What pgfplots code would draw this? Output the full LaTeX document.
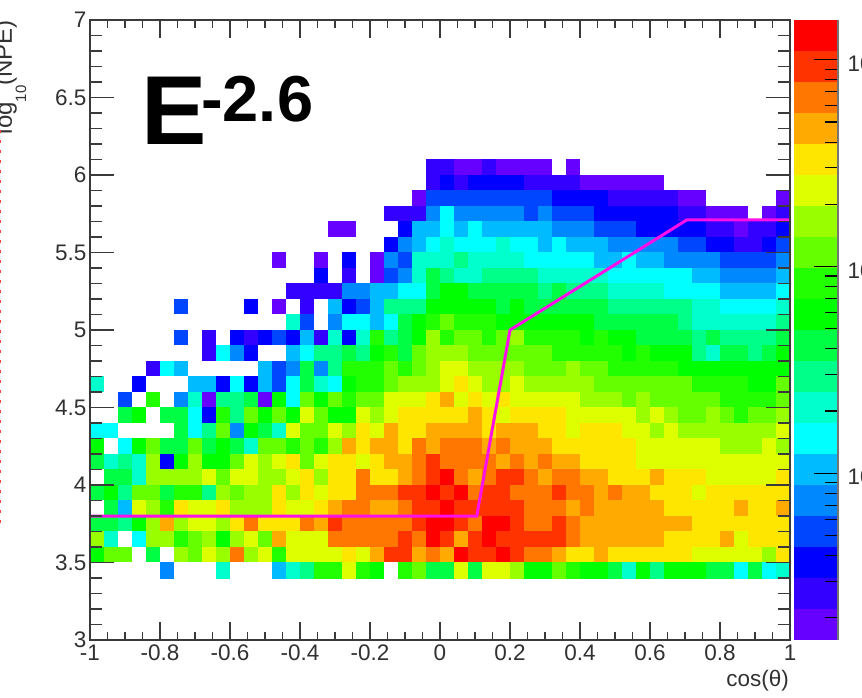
\documentclass[border=0pt]{standalone}
\usepackage{fontspec}
\setmainfont{Liberation Sans}
\usepackage{pgfplots}
\pgfplotsset{compat=1.18}
\definecolor{fr}{HTML}{3A3A3A}
\definecolor{ma}{HTML}{FF10E8}
\definecolor{c0}{RGB}{102,0,255}\definecolor{c1}{RGB}{51,0,255}\definecolor{c2}{RGB}{0,0,255}\definecolor{c3}{RGB}{0,70,255}
\definecolor{c4}{RGB}{0,136,255}\definecolor{c5}{RGB}{0,187,255}\definecolor{c6}{RGB}{0,255,255}\definecolor{c7}{RGB}{0,255,204}
\definecolor{c8}{RGB}{0,255,136}\definecolor{c9}{RGB}{0,255,68}\definecolor{c10}{RGB}{0,255,0}\definecolor{c11}{RGB}{34,255,0}
\definecolor{c12}{RGB}{102,255,0}\definecolor{c13}{RGB}{153,255,0}\definecolor{c14}{RGB}{221,255,0}\definecolor{c15}{RGB}{255,230,0}
\definecolor{c16}{RGB}{255,170,0}\definecolor{c17}{RGB}{255,119,0}\definecolor{c18}{RGB}{255,51,0}\definecolor{c19}{RGB}{255,0,0}
\pgfplotsset{colormap={rootheat}{rgb255=(255,255,255) rgb255=(102,0,255) rgb255=(51,0,255) rgb255=(0,0,255) rgb255=(0,70,255)
 rgb255=(0,136,255) rgb255=(0,187,255) rgb255=(0,255,255) rgb255=(0,255,204) rgb255=(0,255,136) rgb255=(0,255,68)
 rgb255=(0,255,0) rgb255=(34,255,0) rgb255=(102,255,0) rgb255=(153,255,0) rgb255=(221,255,0) rgb255=(255,230,0)
 rgb255=(255,170,0) rgb255=(255,119,0) rgb255=(255,51,0) rgb255=(255,0,0)}}
\newcommand{\seg}[3]{\addplot[fill=#3,draw=none] coordinates {(0,#1)(1,#1)(1,#2)(0,#2)} --cycle;}
\newcommand{\tfont}{\fontsize{22.5}{24}\selectfont\color{fr!85!black}}
\begin{document}
\begin{tikzpicture}[x=1pt,y=1pt]
\path[use as bounding box] (0,0) rectangle (862,697);
\begin{axis}[at={(90pt,57pt)},anchor=south west,scale only axis,width=700pt,height=620pt,
 xmin=-1,xmax=1,ymin=3,ymax=7,axis on top,
 axis line style={color=fr,line width=1.3pt},
 tick style={color=fr,line width=1.2pt},
 xtick={-1,-0.8,-0.6,-0.4,-0.2,0,0.2,0.4,0.6,0.8,1},
 xticklabels={-1,-0.8,-0.6,-0.4,-0.2,0,0.2,0.4,0.6,0.8,1},
 minor x tick num=3,ytick=\empty,
 tick align=inside,major tick length=18pt,minor tick length=8pt,
 xticklabel style={font=\tfont,yshift=-1pt},
 colormap name=rootheat,point meta min=-1,point meta max=19]
\addplot[matrix plot*,mesh/cols=50,point meta=explicit]
 table[row sep=crcr,x expr={-0.98+0.04*mod(\coordindex,50)},y expr={6.05-0.1*floor((\coordindex+0.5)/50)},meta=v] {
v\\
-1\\-1\\-1\\-1\\-1\\-1\\-1\\-1\\-1\\-1\\ -1\\-1\\-1\\-1\\-1\\-1\\-1\\-1\\-1\\-1\\ -1\\-1\\-1\\-1\\1\\1\\0\\0\\1\\0\\ 0\\0\\0\\-1\\0\\-1\\-1\\-1\\-1\\-1\\ -1\\-1\\-1\\-1\\-1\\-1\\-1\\-1\\-1\\-1\\
-1\\-1\\-1\\-1\\-1\\-1\\-1\\-1\\-1\\-1\\ -1\\-1\\-1\\-1\\-1\\-1\\-1\\-1\\-1\\-1\\ -1\\-1\\-1\\-1\\1\\2\\1\\2\\2\\2\\ 2\\1\\1\\1\\1\\0\\0\\0\\0\\0\\ 0\\-1\\-1\\-1\\-1\\-1\\-1\\-1\\-1\\-1\\
-1\\-1\\-1\\-1\\-1\\-1\\-1\\-1\\-1\\-1\\ -1\\-1\\-1\\-1\\-1\\-1\\-1\\-1\\-1\\-1\\ -1\\-1\\-1\\0\\3\\3\\3\\3\\3\\3\\ 3\\3\\3\\2\\2\\2\\2\\1\\1\\1\\ 1\\1\\0\\0\\-1\\-1\\-1\\-1\\-1\\0\\
-1\\-1\\-1\\-1\\-1\\-1\\-1\\-1\\-1\\-1\\ -1\\-1\\-1\\-1\\-1\\-1\\-1\\-1\\-1\\-1\\ -1\\1\\1\\1\\4\\6\\4\\4\\4\\4\\ 4\\3\\4\\3\\3\\3\\2\\2\\2\\2\\ 2\\2\\1\\1\\0\\0\\0\\-1\\0\\1\\
-1\\-1\\-1\\-1\\-1\\-1\\-1\\-1\\-1\\-1\\ -1\\-1\\-1\\-1\\-1\\-1\\-1\\0\\0\\-1\\ -1\\-1\\2\\5\\5\\6\\5\\6\\5\\5\\ 5\\5\\5\\4\\4\\4\\3\\3\\3\\2\\ 2\\2\\2\\2\\1\\1\\0\\1\\1\\2\\
-1\\-1\\-1\\-1\\-1\\-1\\-1\\-1\\-1\\-1\\ -1\\-1\\-1\\-1\\-1\\-1\\-1\\-1\\-1\\-1\\ -1\\2\\4\\5\\6\\7\\6\\6\\6\\7\\ 6\\6\\5\\6\\5\\5\\5\\4\\4\\4\\ 4\\4\\3\\3\\2\\2\\1\\1\\2\\3\\
-1\\-1\\-1\\-1\\-1\\-1\\-1\\-1\\-1\\-1\\ -1\\-1\\-1\\0\\-1\\-1\\0\\-1\\2\\-1\\ 0\\4\\3\\7\\7\\7\\8\\7\\7\\7\\ 7\\6\\6\\6\\6\\6\\5\\5\\6\\5\\ 5\\4\\4\\4\\4\\3\\3\\3\\3\\4\\
-1\\-1\\-1\\-1\\-1\\-1\\-1\\-1\\-1\\-1\\ -1\\-1\\-1\\-1\\-1\\-1\\2\\-1\\1\\-1\\ 0\\3\\4\\7\\9\\8\\7\\7\\8\\8\\ 8\\8\\7\\7\\7\\7\\7\\6\\6\\6\\ 6\\6\\6\\5\\5\\4\\4\\4\\4\\5\\
-1\\-1\\-1\\-1\\-1\\-1\\-1\\-1\\-1\\-1\\ -1\\-1\\-1\\-1\\1\\1\\1\\1\\4\\4\\ 5\\5\\6\\6\\9\\10\\10\\9\\9\\9\\ 9\\9\\8\\9\\8\\8\\8\\7\\7\\7\\ 7\\6\\6\\6\\6\\5\\5\\5\\5\\6\\
-1\\-1\\-1\\-1\\-1\\-1\\3\\-1\\-1\\-1\\ -1\\2\\-1\\0\\-1\\1\\-1\\5\\2\\3\\ 5\\8\\8\\8\\10\\10\\10\\10\\10\\9\\ 10\\9\\9\\9\\9\\9\\9\\8\\8\\8\\ 8\\8\\8\\7\\7\\6\\6\\6\\6\\7\\
-1\\-1\\-1\\-1\\-1\\-1\\-1\\-1\\-1\\-1\\ -1\\-1\\-1\\-1\\7\\3\\-1\\4\\6\\6\\ 5\\6\\9\\10\\11\\12\\11\\11\\11\\10\\ 10\\10\\10\\10\\10\\10\\9\\9\\9\\9\\ 9\\9\\8\\7\\7\\7\\7\\7\\7\\8\\
-1\\-1\\-1\\-1\\-1\\-1\\3\\-1\\1\\-1\\ 2\\1\\2\\3\\2\\5\\1\\7\\2\\7\\ 11\\8\\9\\10\\13\\11\\12\\12\\11\\12\\ 13\\11\\11\\11\\11\\10\\11\\10\\10\\9\\ 9\\9\\9\\8\\9\\8\\8\\8\\8\\9\\
-1\\-1\\-1\\-1\\-1\\-1\\-1\\-1\\1\\6\\ 4\\2\\-1\\-1\\5\\6\\8\\8\\9\\8\\ 10\\11\\9\\12\\13\\13\\13\\12\\12\\12\\ 12\\12\\12\\11\\11\\11\\11\\11\\10\\11\\ 10\\10\\10\\8\\7\\9\\9\\8\\9\\10\\
-1\\-1\\-1\\-1\\1\\6\\5\\-1\\-1\\-1\\ -1\\-1\\5\\3\\4\\9\\4\\8\\11\\11\\ 11\\12\\11\\12\\13\\14\\14\\13\\13\\13\\ 13\\12\\12\\12\\13\\12\\12\\11\\11\\11\\ 11\\11\\10\\10\\10\\10\\10\\10\\10\\10\\
7\\-1\\-1\\2\\-1\\-1\\-1\\5\\5\\2\\ 6\\2\\5\\3\\6\\9\\7\\6\\10\\11\\ 11\\12\\13\\13\\13\\14\\15\\14\\13\\13\\ 14\\13\\13\\13\\13\\13\\12\\12\\12\\12\\ 12\\12\\12\\11\\11\\11\\11\\10\\10\\12\\
-1\\-1\\3\\-1\\11\\-1\\4\\7\\0\\8\\ 8\\9\\0\\10\\6\\12\\10\\12\\11\\12\\ 12\\14\\14\\14\\15\\16\\14\\15\\14\\15\\ 14\\14\\14\\14\\14\\13\\13\\13\\12\\13\\ 12\\12\\12\\12\\12\\11\\11\\11\\11\\12\\
-1\\-1\\9\\10\\-1\\9\\9\\6\\2\\11\\ 8\\12\\10\\12\\10\\14\\12\\10\\10\\14\\ 13\\14\\15\\15\\15\\15\\15\\16\\15\\14\\ 15\\15\\15\\15\\14\\14\\14\\14\\14\\13\\ 14\\13\\12\\12\\13\\12\\11\\12\\12\\13\\
6\\6\\-1\\-1\\-1\\-1\\9\\6\\8\\12\\ 4\\10\\9\\7\\14\\12\\12\\14\\13\\15\\ 14\\16\\15\\15\\16\\16\\16\\16\\15\\16\\ 16\\16\\15\\15\\14\\15\\15\\15\\14\\14\\ 13\\14\\13\\13\\13\\13\\13\\13\\13\\14\\
10\\-1\\6\\10\\12\\9\\9\\12\\9\\10\\ 9\\7\\12\\12\\11\\12\\11\\13\\16\\15\\ 16\\16\\15\\17\\16\\17\\17\\17\\16\\17\\ 16\\16\\16\\15\\15\\15\\15\\15\\15\\14\\ 14\\14\\14\\14\\14\\13\\13\\13\\14\\13\\
9\\7\\8\\7\\13\\2\\10\\13\\10\\10\\ 12\\14\\13\\14\\15\\12\\14\\15\\15\\14\\ 15\\16\\16\\17\\18\\17\\17\\17\\17\\16\\ 17\\16\\17\\16\\16\\15\\15\\15\\15\\14\\ 14\\14\\14\\14\\14\\14\\14\\14\\14\\14\\
-1\\9\\9\\7\\13\\13\\13\\13\\14\\12\\ 14\\14\\13\\13\\14\\15\\13\\15\\15\\17\\ 15\\15\\16\\17\\18\\19\\17\\16\\17\\18\\ 18\\17\\16\\17\\17\\16\\16\\15\\15\\15\\ 16\\15\\15\\15\\14\\14\\14\\14\\14\\15\\
9\\10\\8\\12\\12\\9\\11\\11\\8\\13\\ 12\\13\\13\\15\\13\\15\\14\\15\\15\\17\\ 17\\17\\18\\18\\19\\18\\19\\17\\18\\18\\ 17\\17\\17\\18\\17\\17\\16\\17\\16\\16\\ 15\\15\\15\\14\\15\\15\\15\\15\\15\\15\\
-1\\9\\5\\14\\13\\11\\15\\14\\14\\15\\ 13\\13\\13\\15\\14\\14\\15\\16\\17\\17\\ 16\\16\\17\\18\\18\\19\\18\\18\\18\\18\\ 18\\17\\17\\17\\16\\17\\16\\16\\16\\16\\ 16\\15\\15\\15\\15\\15\\16\\15\\15\\16\\
9\\9\\8\\10\\13\\16\\13\\14\\14\\13\\ 15\\17\\15\\15\\15\\17\\16\\18\\17\\17\\ 17\\17\\17\\18\\19\\19\\18\\17\\19\\19\\ 18\\17\\17\\18\\17\\16\\16\\16\\16\\16\\ 16\\16\\16\\15\\15\\15\\15\\15\\15\\15\\
13\\7\\-1\\6\\13\\13\\11\\12\\13\\10\\ 13\\14\\12\\16\\14\\14\\14\\17\\17\\17\\ 17\\17\\18\\17\\19\\18\\16\\18\\19\\18\\ 18\\18\\18\\18\\17\\16\\16\\16\\16\\16\\ 16\\15\\15\\15\\15\\16\\14\\15\\15\\15\\
10\\12\\12\\-1\\9\\-1\\13\\12\\14\\13\\ 17\\13\\14\\11\\14\\14\\14\\14\\15\\14\\ 16\\18\\18\\16\\17\\16\\19\\18\\18\\19\\ 18\\17\\17\\16\\15\\15\\16\\15\\15\\15\\ 15\\15\\15\\14\\14\\14\\14\\14\\13\\15\\
-1\\-1\\-1\\-1\\-1\\4\\-1\\-1\\-1\\7\\ -1\\-1\\-1\\5\\7\\8\\11\\11\\14\\11\\ 10\\-1\\11\\12\\9\\9\\14\\9\\14\\14\\ 13\\10\\10\\12\\11\\10\\10\\9\\7\\10\\ 8\\10\\10\\10\\9\\9\\6\\9\\6\\7\\
};
\addplot[color=ma,line width=3pt,no marks] coordinates {(-1,3.8)(0.105,3.8)(0.2,5.0)(0.705,5.71)(1,5.71)};
\end{axis}
\begin{axis}[at={(90pt,57pt)},anchor=south west,scale only axis,width=700pt,height=620pt,
 xmin=-1,xmax=1,ymin=3,ymax=7,xtick=\empty,
 axis line style={color=fr,line width=1.3pt},
 tick style={color=fr,line width=1.2pt},
 ytick={3,3.5,4,4.5,5,5.5,6,6.5,7},
 yticklabels={3,3.5,4,4.5,5,5.5,6,6.5,7},
 minor y tick num=4,tick align=inside,major tick length=24pt,minor tick length=12pt,
 yticklabel style={font=\tfont}]
\end{axis}
\begin{axis}[at={(794pt,57pt)},anchor=south west,scale only axis,width=44pt,height=620pt,
 xmin=0,xmax=1,ymode=log,ymin=1.56,ymax=1558,
 axis x line=none,axis y line*=right,axis line style={-,color=fr!70,line width=1.3pt},
 tick align=inside,major tick length=24pt,minor tick length=13pt,
 tick style={color=black,line width=1.1pt},
 ytick={10,100,1000},yticklabels={10,10,10},
 minor ytick={2,3,4,5,6,7,8,9,20,30,40,50,60,70,80,90,200,300,400,500,600,700,800,900},
 yticklabel pos=right,
 yticklabel style={font=\tfont,anchor=west,xshift=6pt,yshift=-4pt},
 axis on top,clip=true]
\seg{1.56}{2.2}{c0}\seg{2.2}{3.11}{c1}\seg{3.11}{4.4}{c2}\seg{4.4}{6.21}{c3}\seg{6.21}{8.77}{c4}
\seg{8.77}{12.4}{c5}\seg{12.4}{17.5}{c6}\seg{17.5}{24.7}{c7}\seg{24.7}{34.9}{c8}\seg{34.9}{49.3}{c9}
\seg{49.3}{69.6}{c10}\seg{69.6}{98.3}{c11}\seg{98.3}{138.9}{c12}\seg{138.9}{196}{c13}\seg{196}{277}{c14}
\seg{277}{391}{c15}\seg{391}{553}{c16}\seg{553}{781}{c17}\seg{781}{1103}{c18}\seg{1103}{1558}{c19}
\end{axis}
\node[anchor=base west,inner sep=0pt] at (141,552) {\fontsize{98}{98}\selectfont\bfseries E};
\node[anchor=base west,inner sep=0pt] at (201,575) {\fontsize{65}{65}\selectfont\bfseries -2.6};
\node[anchor=base east,inner sep=0pt] at (789,11) {\tfont cos(θ)};
\node[rotate=90,anchor=base east,inner sep=0pt] at (12,677) {\fontsize{24}{24}\selectfont\color{fr!85!black}log\raisebox{-14pt}{\fontsize{15}{15}\selectfont 10}(NPE)};
\draw[red!75,line width=1pt,dash pattern=on 3pt off 7pt] (0.5,567)--(0.5,167);
\end{tikzpicture}
\end{document}
